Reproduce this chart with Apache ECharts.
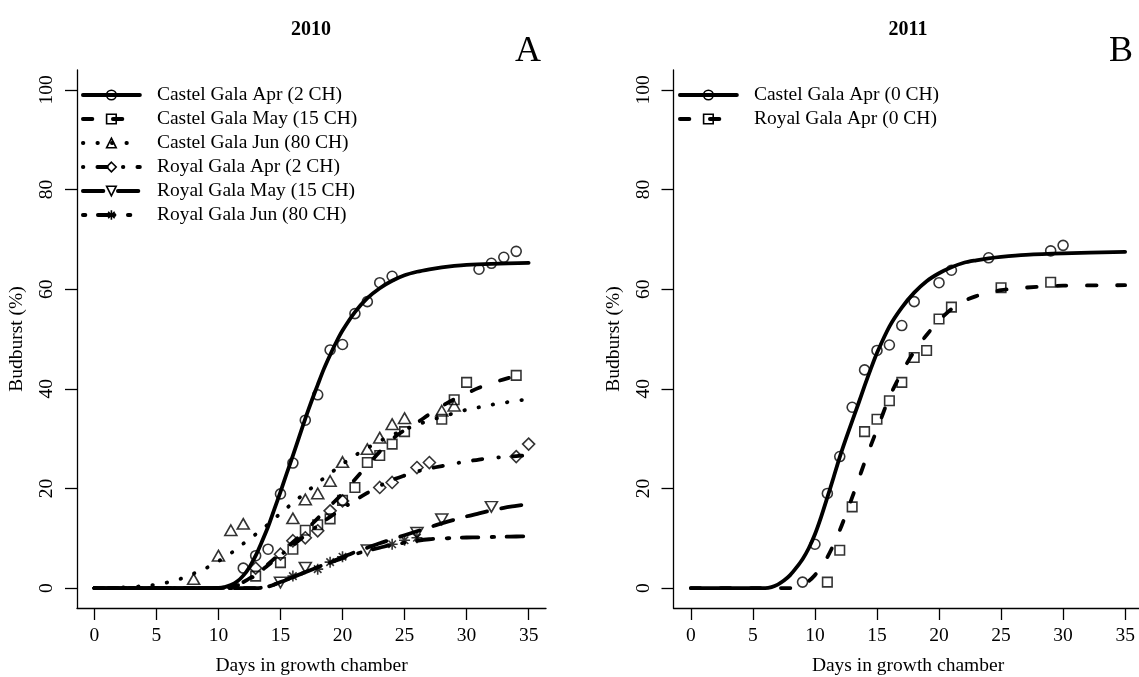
<!DOCTYPE html>
<html>
<head>
<meta charset="utf-8">
<script src="https://cdn.jsdelivr.net/npm/echarts@6/dist/echarts.min.js"></script>
<style>
  html, body { margin: 0; padding: 0; background: #fff; }
  #chart { width: 1139px; height: 677px; }
</style>
</head>
<body>
<div id="chart"></div>
<script>
// ---------- tick labels ----------
const dayTicks = [0, 5, 10, 15, 20, 25, 30, 35];
const budburstTicks = [0, 20, 40, 60, 80, 100];

// ---------- 2010: observed budburst (%) by day in growth chamber ----------
const castelApr10Days = [12, 13, 14, 15, 16, 17, 18, 19, 20, 21, 22, 23, 24, 31, 32, 33, 34];
const castelApr10Obs  = [4.0, 6.5, 7.8, 18.9, 25.1, 33.7, 38.8, 47.8, 48.9, 55.1, 57.5, 61.3, 62.6, 64.0, 65.2, 66.4, 67.6];
const castelMay10Days = [13, 15, 16, 17, 18, 19, 20, 21, 22, 23, 24, 25, 28, 29, 30, 34];
const castelMay10Obs  = [2.4, 5.1, 7.8, 11.6, 12.7, 13.9, 17.6, 20.2, 25.2, 26.6, 28.9, 31.4, 33.9, 37.8, 41.3, 42.7];
const castelJun10Days = [8, 10, 11, 12, 16, 17, 18, 19, 20, 22, 23, 24, 25, 28, 29];
const castelJun10Obs  = [1.8, 6.5, 11.6, 12.9, 14.0, 17.8, 19.0, 21.5, 25.3, 27.9, 30.2, 32.9, 34.1, 35.6, 36.6];
const royalApr10Days  = [13, 15, 16, 17, 18, 19, 20, 23, 24, 26, 27, 34, 35];
const royalApr10Obs   = [4.0, 6.8, 9.5, 10.1, 11.5, 15.5, 17.5, 20.2, 21.2, 24.2, 25.2, 26.4, 28.9];
const royalMay10Days  = [15, 17, 22, 26, 28, 32];
const royalMay10Obs   = [1.1, 4.1, 7.6, 11.1, 13.8, 16.3];
const royalJun10Days  = [16, 18, 19, 20, 24, 25, 26];
const royalJun10Obs   = [2.4, 3.8, 5.2, 6.3, 8.8, 9.6, 10.1];

// ---------- 2010: fitted curves [day, %] ----------
const castelApr10Fit = [[0,0],[5,0],[9,0],[10,0.05],[10.5,0.2],[11,0.6],[11.5,1.3],[12,2.5],[12.5,4.2],[13,6.5],[13.5,9.3],[14,12.3],[14.5,15.8],[15,19.3],[15.5,23],[16,26.6],[16.5,30.3],[17,34],[17.5,37.5],[18,40.8],[18.5,44],[19,46.8],[19.5,49.4],[20,51.7],[21,55.4],[22,58.2],[23,60.2],[24,61.7],[25,62.8],[26,63.5],[27,64],[28,64.4],[29,64.7],[30,64.9],[32,65.1],[35,65.3]];
const castelMay10Fit = [[0,0],[10,0],[11,0.3],[12,1.2],[13,2.8],[14,4.8],[15,7],[16,9.2],[17,11.5],[18,14],[19,16.5],[20,19],[21,21.8],[22,24.6],[23,27.4],[24,29.9],[25,31.7],[26,33.2],[27,34.9],[28,36.5],[29,37.9],[30,39.1],[31,40.2],[32,41.1],[33,41.9],[34,42.6],[35,43.2]];
const castelJun10Fit = [[0,0],[2,0.1],[4,0.4],[5,0.7],[6,1.2],[7,1.9],[8,2.9],[9,4.0],[10,5.4],[11,7.0],[12,8.9],[13,10.8],[14,12.8],[15,15.0],[16,17.1],[17,19.1],[18,21.1],[19,23.0],[20,24.9],[21,26.6],[22,28.1],[23,29.5],[24,30.7],[25,31.8],[26,32.8],[27,33.6],[28,34.4],[29,35.1],[30,35.8],[31,36.3],[32,36.8],[33,37.2],[34,37.6],[35,37.9]];
const royalApr10Fit  = [[0,0],[10,0],[11,0.2],[12,1],[13,2.6],[14,4.6],[15,6.6],[16,8.6],[17,10.6],[18,12.5],[19,14.3],[20,16],[21,17.6],[22,19.1],[23,20.5],[24,21.7],[25,22.6],[26,23.4],[27,24],[28,24.5],[29,25],[30,25.4],[31,25.8],[32,26.1],[33,26.3],[34,26.5],[35,26.7]];
const royalMay10Fit  = [[0,0],[13,0],[14,0.3],[15,1.2],[16,2.2],[17,3.2],[18,4.2],[19,5.2],[20,6.2],[21,7.2],[22,8.1],[23,9],[24,9.8],[25,10.6],[26,11.4],[27,12.2],[28,13],[29,13.7],[30,14.4],[31,15],[32,15.6],[33,16.1],[34,16.5],[35,16.9]];
const royalJun10Fit  = [[0,0],[13,0],[14,0.3],[15,1.2],[16,2.2],[17,3.2],[18,4.2],[19,5.1],[20,6],[21,6.8],[22,7.5],[23,8.1],[24,8.7],[25,9.1],[26,9.5],[27,9.8],[28,9.95],[29,10.05],[30,10.15],[31,10.2],[32,10.25],[33,10.3],[34,10.35],[35,10.4]];

// ---------- 2011: observed budburst (%) ----------
const castelApr11Days = [9, 10, 11, 12, 13, 14, 15, 16, 17, 18, 20, 21, 24, 29, 30];
const castelApr11Obs  = [1.2, 8.8, 19.0, 26.4, 36.3, 43.8, 47.7, 48.8, 52.7, 57.5, 61.3, 63.8, 66.3, 67.7, 68.8];
const royalApr11Days  = [11, 12, 13, 14, 15, 16, 17, 18, 19, 20, 21, 25, 29];
const royalApr11Obs   = [1.2, 7.6, 16.3, 31.4, 33.9, 37.6, 41.3, 46.3, 47.7, 54.0, 56.4, 60.3, 61.4];

// ---------- 2011: fitted curves [day, %] ----------
const castelApr11Fit = [[0,0],[6,0],[6.5,0.2],[7,0.7],[7.5,1.5],[8,2.6],[8.5,4.1],[9,5.8],[9.5,8],[10,10.8],[10.5,14.3],[11,18.2],[11.5,22.2],[12,26.3],[12.5,30],[13,33.5],[13.5,37],[14,40.6],[14.5,44],[15,47.2],[16,52.5],[17,56.3],[18,59.3],[19,61.6],[20,63.2],[21,64.4],[22,65.3],[23,65.8],[24,66.2],[25,66.5],[27,66.9],[30,67.2],[35,67.5]];
const royalApr11Fit  = [[0,0],[8,0],[8.5,0.2],[9,0.6],[9.5,1.4],[10,2.6],[10.5,4.2],[11,6.2],[11.5,8.7],[12,11.6],[12.5,14.8],[13,18.2],[13.5,21.7],[14,25.2],[14.5,28.6],[15,31.8],[16,38.3],[17,43.3],[18,47.5],[19,50.8],[20,53.7],[21,56],[22,57.6],[23,58.6],[24,59.3],[25,59.8],[26,60.1],[28,60.5],[30,60.7],[35,60.8]];

// ---------- legend names ----------
const names2010 = ['Castel Gala Apr (2 CH)', 'Castel Gala May (15 CH)', 'Castel Gala Jun (80 CH)',
                   'Royal Gala Apr (2 CH)', 'Royal Gala May (15 CH)', 'Royal Gala Jun (80 CH)'];
const names2011 = ['Castel Gala Apr (0 CH)', 'Royal Gala Apr (0 CH)'];

// ---------- styling helpers ----------
const SERIF = '"Liberation Serif", "DejaVu Serif", serif';
const LINE_W = 3.8;
const dashes = {
  solid: 'solid',
  dashed: [9.5, 20.5],
  dotted: [0.5, 14],
  dotdash: [0.5, 14, 9.5, 16],
  longdash: [20.5, 14.5],
  twodash: [2.5, 12.5, 16.5, 13.5]
};
const asterisk = 'path://M5,0L5,10M0,5L10,5M1.6,1.6L8.4,8.4M1.6,8.4L8.4,1.6';
const markers = {
  circle:   { symbol: 'circle',   size: 10,      rotate: 0 },
  square:   { symbol: 'rect',     size: 9.5,     rotate: 0 },
  triangle: { symbol: 'triangle', size: [12, 10.5], rotate: 0 },
  diamond:  { symbol: 'diamond',  size: [12, 12], rotate: 0 },
  down:     { symbol: 'triangle', size: [12, 10.5], rotate: 180 },
  star:     { symbol: asterisk,   size: 11,      rotate: 0 }
};
const openMark = { color: 'rgba(0,0,0,0)', borderColor: '#000', borderWidth: 1.6 };

function zip(days, vals) { return days.map((d, i) => [d, vals[i]]); }

function fitLine(name, gi, pts, dash, mk) {
  return {
    type: 'line', name, xAxisIndex: gi, yAxisIndex: gi, data: pts,
    showSymbol: false, symbol: mk.symbol, symbolSize: mk.size, symbolRotate: mk.rotate,
    smooth: 0.3, silent: true, z: 3,
    lineStyle: { color: '#000', width: LINE_W, type: dash, cap: 'round', join: 'round' },
    itemStyle: openMark
  };
}
function obsPoints(name, gi, days, vals, mk) {
  return {
    type: 'scatter', name, xAxisIndex: gi, yAxisIndex: gi, data: zip(days, vals),
    symbol: mk.symbol, symbolSize: mk.size, symbolRotate: mk.rotate,
    silent: true, z: 2, itemStyle: openMark
  };
}

function xAxisFor(gi) {
  return {
    gridIndex: gi, type: 'value', min: -1.4, max: 36.4,
    axisLine: { show: true, onZero: false, lineStyle: { color: '#000', width: 1.3 } },
    axisTick: { show: true, length: 12, customValues: dayTicks, lineStyle: { color: '#000', width: 1.3 } },
    axisLabel: { customValues: dayTicks, margin: 18, fontSize: 19.5, fontFamily: SERIF, color: '#000' },
    splitLine: { show: false },
    name: 'Days in growth chamber', nameLocation: 'middle', nameGap: 48,
    nameTextStyle: { fontSize: 19.5, fontFamily: SERIF, color: '#000' }
  };
}
function yAxisFor(gi) {
  return {
    gridIndex: gi, type: 'value', min: -4, max: 104,
    axisLine: { show: true, onZero: false, lineStyle: { color: '#000', width: 1.3 } },
    axisTick: { show: true, length: 12, customValues: budburstTicks, lineStyle: { color: '#000', width: 1.3 } },
    axisLabel: { customValues: budburstTicks, rotate: 90, margin: 20, fontSize: 19.5, fontFamily: SERIF, color: '#000' },
    splitLine: { show: false },
    name: 'Budburst (%)', nameLocation: 'middle', nameGap: 50, nameRotate: 90,
    nameTextStyle: { fontSize: 19.5, fontFamily: SERIF, color: '#000' }
  };
}
function legendFor(names, left) {
  return {
    data: names, orient: 'vertical', left, top: 83, padding: 0,
    itemWidth: 57, itemHeight: 12, itemGap: 0, selectedMode: false,
    itemStyle: openMark,
    lineStyle: { width: LINE_W, cap: 'round' },
    textStyle: { fontSize: 19.5, fontFamily: SERIF, color: '#000', lineHeight: 24, padding: [0, 0, 0, 12] }
  };
}

const series = [
  fitLine(names2010[0], 0, castelApr10Fit, dashes.solid,    markers.circle),
  fitLine(names2010[1], 0, castelMay10Fit, dashes.dashed,   markers.square),
  fitLine(names2010[2], 0, castelJun10Fit, dashes.dotted,   markers.triangle),
  fitLine(names2010[3], 0, royalApr10Fit,  dashes.dotdash,  markers.diamond),
  fitLine(names2010[4], 0, royalMay10Fit,  dashes.longdash, markers.down),
  fitLine(names2010[5], 0, royalJun10Fit,  dashes.twodash,  markers.star),
  obsPoints(names2010[0], 0, castelApr10Days, castelApr10Obs, markers.circle),
  obsPoints(names2010[1], 0, castelMay10Days, castelMay10Obs, markers.square),
  obsPoints(names2010[2], 0, castelJun10Days, castelJun10Obs, markers.triangle),
  obsPoints(names2010[3], 0, royalApr10Days,  royalApr10Obs,  markers.diamond),
  obsPoints(names2010[4], 0, royalMay10Days,  royalMay10Obs,  markers.down),
  obsPoints(names2010[5], 0, royalJun10Days,  royalJun10Obs,  markers.star),
  fitLine(names2011[0], 1, castelApr11Fit, dashes.solid,  markers.circle),
  fitLine(names2011[1], 1, royalApr11Fit,  dashes.dashed, markers.square),
  obsPoints(names2011[0], 1, castelApr11Days, castelApr11Obs, markers.circle),
  obsPoints(names2011[1], 1, royalApr11Days,  royalApr11Obs,  markers.square)
];

const chart = echarts.init(document.getElementById('chart'), null, { renderer: 'canvas' });
chart.setOption({
  animation: false,
  backgroundColor: '#fff',
  color: ['#000'],
  grid: [
    { left: 77,    top: 70, width: 469, bottom: 69, outerBoundsMode: 'none', containLabel: false },
    { left: 673.5, top: 70, width: 469, bottom: 69, outerBoundsMode: 'none', containLabel: false }
  ],
  xAxis: [xAxisFor(0), xAxisFor(1)],
  yAxis: [yAxisFor(0), yAxisFor(1)],
  legend: [legendFor(names2010, 81), legendFor(names2011, 678)],
  graphic: [
    { type: 'text', x: 311, y: 30, style: { text: '2010', font: 'bold 20px ' + SERIF, fill: '#000', align: 'center', verticalAlign: 'middle' } },
    { type: 'text', x: 908, y: 30, style: { text: '2011', font: 'bold 20px ' + SERIF, fill: '#000', align: 'center', verticalAlign: 'middle' } },
    { type: 'text', x: 528, y: 52, style: { text: 'A', font: '36px ' + SERIF, fill: '#000', align: 'center', verticalAlign: 'middle' } },
    { type: 'text', x: 1121, y: 52, style: { text: 'B', font: '36px ' + SERIF, fill: '#000', align: 'center', verticalAlign: 'middle' } }
  ],
  series
});
</script>
</body>
</html>
